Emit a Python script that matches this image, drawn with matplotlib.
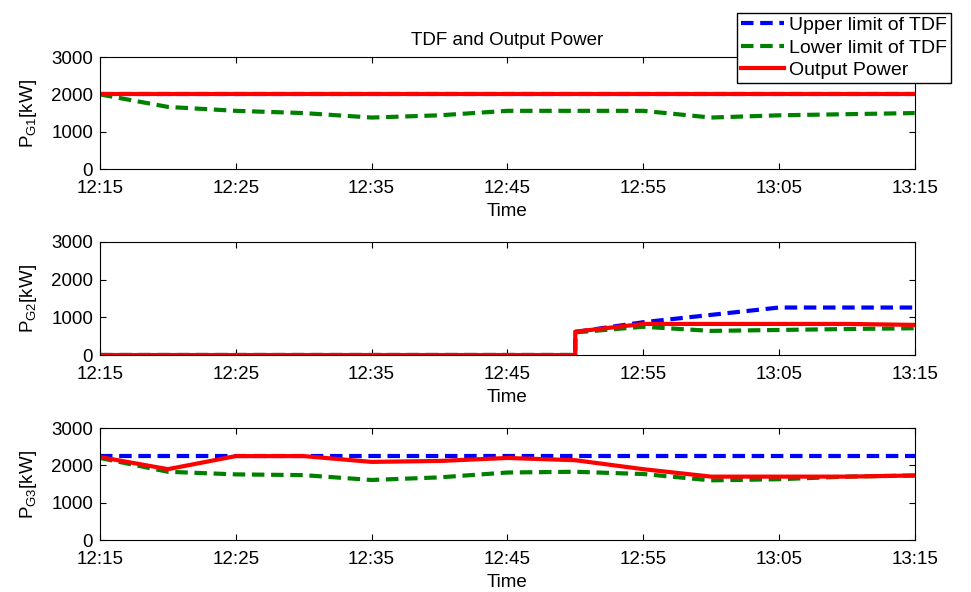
import matplotlib
matplotlib.use('Agg')
import matplotlib.pyplot as plt
import matplotlib.dates as mdates
import pandas as pd

# sample times (5 min steps)
times = ['12:15', '12:20', '12:25', '12:30', '12:35', '12:40', '12:45',
         '12:50', '12:55', '13:00', '13:05', '13:10', '13:15']

# G1
g1_upper = [2000] * 13
g1_lower = [2000, 1665, 1560, 1500, 1380, 1440, 1560, 1560, 1560, 1380, 1440, 1470, 1500]
g1_output = [2000] * 13

# G2 (step at 12:50, time repeated)
times_g2 = ['12:15', '12:20', '12:25', '12:30', '12:35', '12:40', '12:45',
            '12:50', '12:50', '12:55', '13:00', '13:05', '13:10', '13:15']
g2_upper = [0, 0, 0, 0, 0, 0, 0, 0, 610, 870, 1065, 1260, 1260, 1260]
g2_lower = [0, 0, 0, 0, 0, 0, 0, 0, 600, 750, 640, 665, 690, 710]
g2_output = [0, 0, 0, 0, 0, 0, 0, 0, 620, 825, 825, 825, 825, 800]

# G3
g3_upper = [2250] * 13
g3_lower = [2200, 1830, 1760, 1740, 1610, 1680, 1810, 1830, 1770, 1600, 1630, 1700, 1730]
g3_output = [2225, 1900, 2250, 2250, 2095, 2120, 2200, 2140, 1900, 1700, 1700, 1700, 1730]

ylabels = ['G1', 'G2', 'G3']
tick_times = ['12:15', '12:25', '12:35', '12:45', '12:55', '13:05', '13:15']


def to_dt(ts):
    return pd.to_datetime(['2020-01-01 ' + t for t in ts])


plt.rcParams['font.family'] = ['Liberation Sans', 'DejaVu Sans']
plt.rcParams['mathtext.fontset'] = 'custom'
plt.rcParams['mathtext.rm'] = 'Liberation Sans'

fig = plt.figure(figsize=(9.71, 5.92), dpi=100)
positions = [[0.103, 0.7145, 0.839, 0.189],
             [0.103, 0.4003, 0.839, 0.191],
             [0.103, 0.0878, 0.839, 0.189]]

series = [(to_dt(times), g1_upper, g1_lower, g1_output),
          (to_dt(times_g2), g2_upper, g2_lower, g2_output),
          (to_dt(times), g3_upper, g3_lower, g3_output)]

axes = []
for i, (t, up, lo, out) in enumerate(series):
    ax = fig.add_axes(positions[i])
    l1, = ax.plot(t, up, color='blue', lw=3, ls=(0, (3, 1.6)), label='Upper limit of TDF')
    l2, = ax.plot(t, lo, color='green', lw=3, ls=(0, (3, 1.6)), label='Lower limit of TDF')
    l3, = ax.plot(t, out, color='red', lw=3, label='Output Power')
    ax.set_xlim(to_dt(['12:15'])[0], to_dt(['13:15'])[0])
    ax.set_ylim(0, 3000)
    ax.set_yticks([0, 1000, 2000, 3000])
    ax.set_xticks(to_dt(tick_times))
    ax.xaxis.set_major_formatter(mdates.DateFormatter('%H:%M'))
    ax.tick_params(direction='in', top=True, right=True, labelsize=13.5, length=4)
    ax.tick_params(axis='x', pad=8)
    ax.tick_params(axis='y', pad=5)
    ax.set_xlabel('Time', fontsize=13.5, labelpad=4)
    ax.set_ylabel(r'P$_{\mathrm{' + ylabels[i] + '}}$[kW]', fontsize=13.5, labelpad=9)
    axes.append(ax)

axes[0].set_title('TDF and Output Power', fontsize=13.5, pad=9)

leg = fig.legend(handles=[l1, l2, l3], loc='lower left',
                 bbox_to_anchor=(0.759, 0.860), fontsize=14,
                 fancybox=False, edgecolor='black', framealpha=1,
                 handlelength=2.2, handletextpad=0.3, borderpad=0.2,
                 labelspacing=0.25, borderaxespad=0)
leg.get_frame().set_linewidth(1)

fig.savefig('out.png', dpi=100)
